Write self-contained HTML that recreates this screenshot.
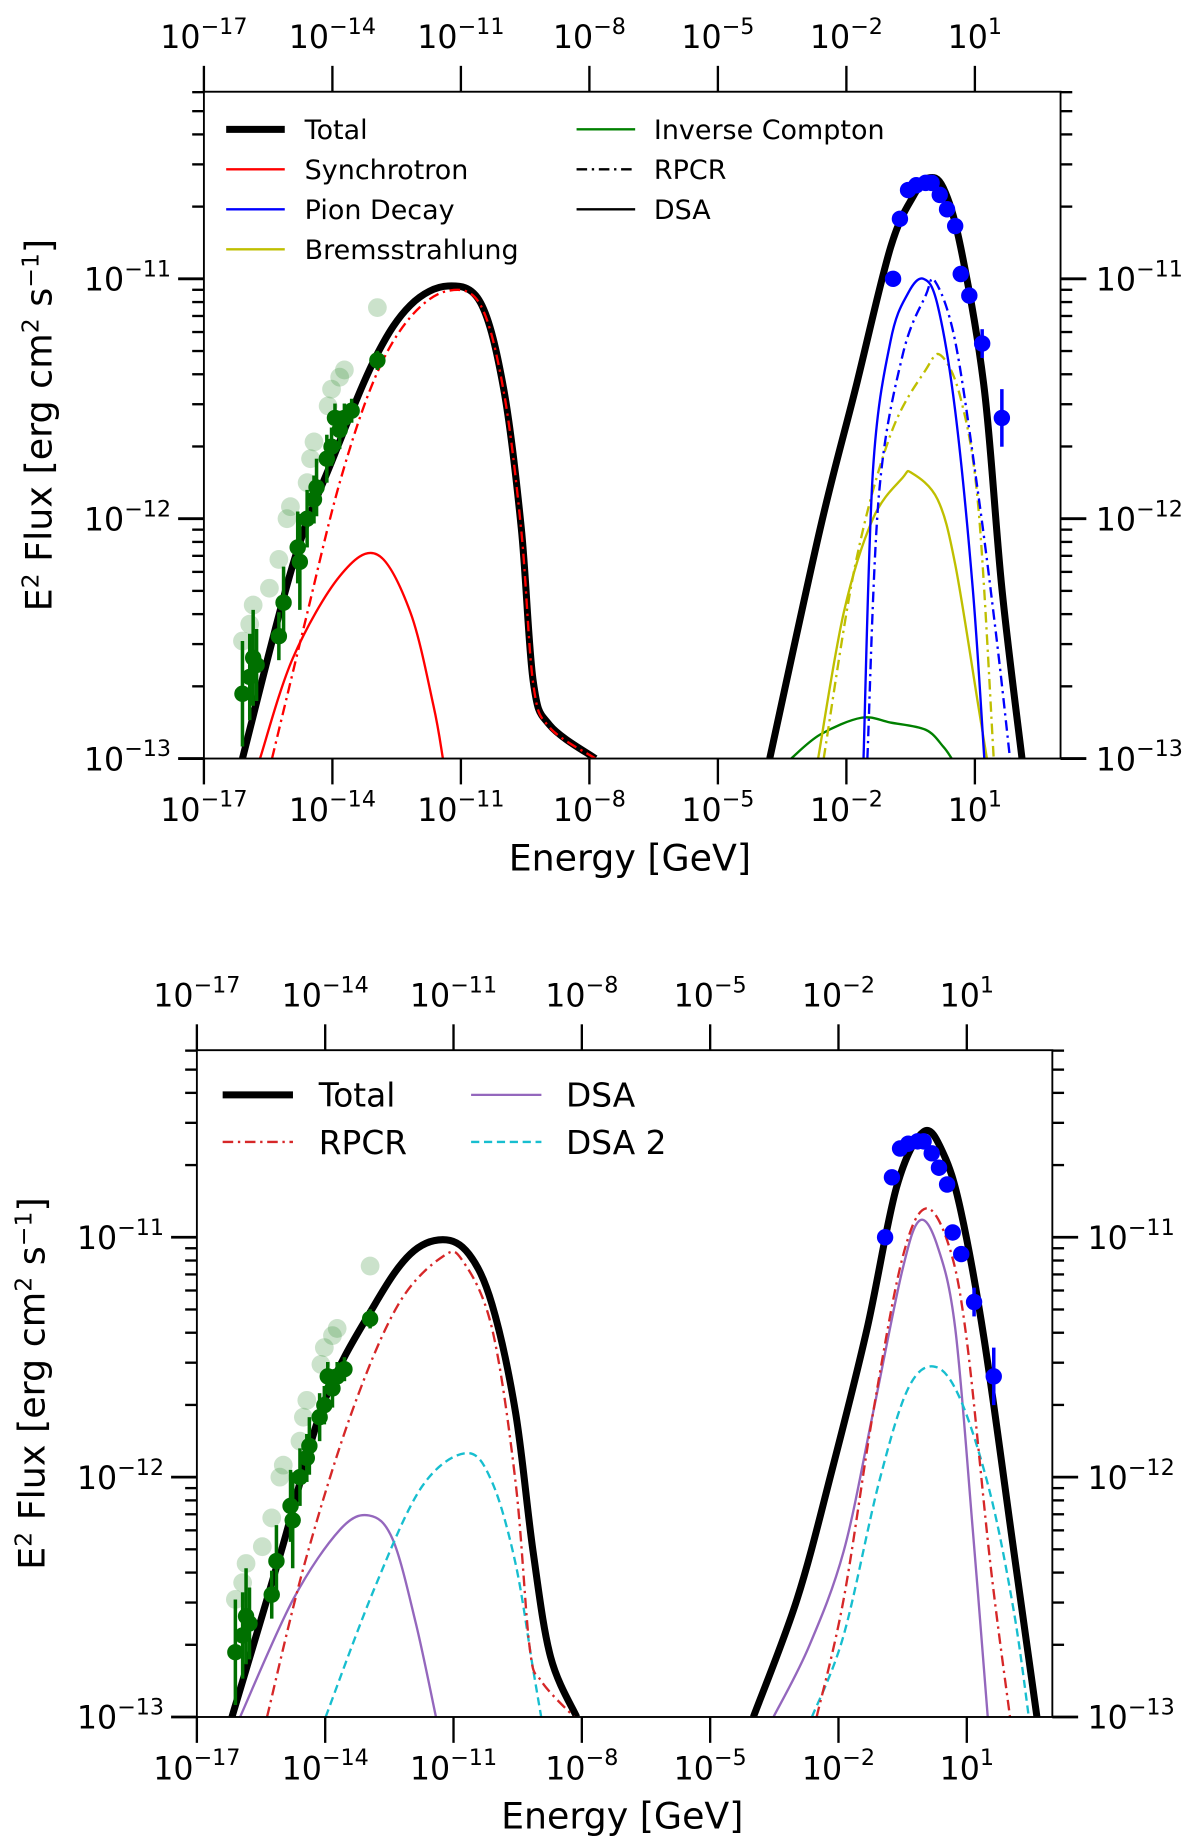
<!DOCTYPE html>
<html><head><meta charset="utf-8"><style>
html,body{margin:0;padding:0;background:#fff;}
svg{display:block;font-family:"DejaVu Sans","Liberation Sans",sans-serif;}
</style></head><body>
<svg id="fig" width="1200" height="1844" viewBox="0 0 1024 1568" preserveAspectRatio="none" xmlns="http://www.w3.org/2000/svg"></svg>
<script>
// ---------- DATA (log10 E [GeV], log10 E^2 Flux) ----------
const xTickExps = [-17,-14,-11,-8,-5,-2,1];
const yTickExps = [-13,-12,-11];
// observations
const radioE = [-16.10,-15.93,-15.85,-15.77,-15.25,-15.14,-14.81,-14.76,-14.59,-14.43,-14.37,-14.13,-14.02,-13.83,-13.94,-13.72,-13.55,-12.95];
const radioF = [-12.73,-12.66,-12.58,-12.61,-12.49,-12.35,-12.12,-12.18,-12.00,-11.92,-11.87,-11.75,-11.70,-11.63,-11.58,-11.58,-11.55,-11.34];
const radioErr = [0.22,0.18,0.2,0.15,0.1,0.15,0.15,0.2,0.12,0.1,0.12,0.1,0.08,0.08,0.06,0.06,0.05,0.04];
const radioFaintE = [-16.10,-15.93,-15.85,-15.47,-15.25,-15.06,-14.98,-14.59,-14.51,-14.43,-14.10,-14.02,-13.83,-13.72,-12.95];
const radioFaintF = [-12.51,-12.44,-12.36,-12.29,-12.17,-12.00,-11.95,-11.85,-11.75,-11.68,-11.53,-11.46,-11.41,-11.38,-11.12];
const gammaE = [-0.91,-0.75,-0.56,-0.37,-0.15,-0.01,0.18,0.35,0.54,0.67,0.87,1.17,1.63];
const gammaF = [-11.00,-10.75,-10.63,-10.61,-10.60,-10.60,-10.65,-10.71,-10.78,-10.98,-11.07,-11.27,-11.58];
const gammaErr = [0.01,0.01,0.01,0.01,0.01,0.01,0.01,0.01,0.01,0.02,0.03,0.06,0.12];

// top panel model curves
const tTotLoE = [-16.1,-14.92,-13.99,-13.0,-12.18,-11.3,-10.54,-10.0,-9.59,-9.31,-8.93,-7.86];
const tTotLoF = [-13,-12.19,-11.75,-11.33,-11.11,-11.03,-11.10,-11.46,-12.04,-12.68,-12.86,-13];
const tSynRE = [-15.41,-14.65,-13.83,-13.0,-12.18,-11.3,-10.54,-10.0,-9.59,-9.31,-8.93,-7.86];
const tSynRF = [-13,-12.44,-11.85,-11.41,-11.16,-11.05,-11.11,-11.47,-12.05,-12.69,-12.87,-13];
const tSynDE = [-15.69,-14.92,-13.83,-12.95,-12.18,-11.64,-11.42];
const tSynDF = [-13,-12.58,-12.24,-12.15,-12.39,-12.78,-13];
const tTotHiE = [-3.79,-2.61,-1.79,-0.97,-0.42,-0.09,0.26,0.67,1.22,1.63,2.10];
const tTotHiF = [-13,-12.04,-11.46,-10.87,-10.65,-10.58,-10.62,-10.87,-11.46,-12.29,-13];
const tPiDE = [-1.60,-1.38,-0.97,-0.56,-0.20,0.13,0.54,0.95,1.22];
const tPiDF = [-13,-11.8,-11.26,-11.06,-11.0,-11.11,-11.55,-12.29,-13];
const tPiRE = [-1.51,-1.24,-0.69,-0.15,0.07,0.54,1.08,1.50,1.82];
const tPiRF = [-13,-11.90,-11.32,-11.07,-11.01,-11.26,-11.90,-12.49,-13];
const tBrDE = [-2.66,-2.06,-1.38,-0.69,-0.47,0.13,0.54,1.08,1.28];
const tBrDF = [-13,-12.39,-12.0,-11.83,-11.81,-11.92,-12.19,-12.78,-13];
const tBrRE = [-2.53,-1.79,-0.97,-0.15,0.21,0.67,1.08,1.44];
const tBrRF = [-13,-12.19,-11.65,-11.38,-11.32,-11.50,-11.95,-13];
const tIcE = [-3.29,-2.61,-1.65,-0.97,-0.15,0.26,0.46];
const tIcF = [-13,-12.9,-12.83,-12.85,-12.88,-12.95,-13];

// bottom panel model curves
const bTotLoE = [-16.18,-15.03,-14.01,-12.84,-12.01,-11.25,-10.64,-10.10,-9.55,-9.14,-8.73,-8.12];
const bTotLoF = [-13,-12.31,-11.68,-11.28,-11.07,-11.01,-11.07,-11.28,-11.73,-12.31,-12.75,-13];
const bRpLoE = [-15.36,-14.48,-13.38,-12.29,-11.25,-10.78,-10.10,-9.55,-9.22,-8.95,-8.18];
const bRpLoF = [-13,-12.36,-11.73,-11.28,-11.08,-11.10,-11.38,-12.02,-12.71,-12.85,-13];
const bDsLoE = [-15.99,-14.75,-13.66,-12.97,-12.42,-11.88,-11.41];
const bDsLoF = [-13,-12.51,-12.22,-12.16,-12.26,-12.61,-13];
const bD2LoE = [-13.99,-12.84,-11.74,-10.70,-10.10,-9.55,-9.14,-8.95];
const bD2LoF = [-13,-12.46,-12.04,-11.90,-12.02,-12.36,-12.80,-13];
const bTotHiE = [-3.99,-2.97,-2.15,-1.33,-0.64,-0.01,0.45,0.86,1.41,2.10,2.64];
const bTotHiF = [-13,-12.51,-11.97,-11.38,-10.79,-10.56,-10.65,-10.89,-11.43,-12.31,-13];
const bDsHiE = [-3.52,-2.70,-1.88,-1.19,-0.51,-0.10,0.32,0.73,1.14,1.49];
const bDsHiF = [-13,-12.71,-12.31,-11.73,-11.14,-10.93,-11.04,-11.38,-12.22,-13];
const bRpHiE = [-2.51,-1.88,-1.19,-0.51,0.04,0.59,1.0,1.55,2.01];
const bRpHiF = [-13,-12.51,-11.73,-11.09,-10.88,-11.04,-11.43,-12.36,-13];
const bD2HiE = [-2.62,-1.88,-1.05,-0.37,0.26,0.86,1.55,2.10,2.45];
const bD2HiF = [-13,-12.66,-12.02,-11.63,-11.54,-11.68,-12.07,-12.56,-13];

// ---------- RENDERING ----------
const NS = "http://www.w3.org/2000/svg";
const svg = document.getElementById('fig');
function mk(tag, attrs, parent){ const e=document.createElementNS(NS,tag); for(const k in attrs) e.setAttribute(k,attrs[k]); (parent||svg).appendChild(e); return e; }

function makePanel(P){
  const g = mk('g',{});
  
  
  const xs = v => P.x0 + (v - P.xmin) * (P.x1 - P.x0) / (P.xmax - P.xmin);
  const ys = v => P.y1 - (v - P.ymin) * (P.y1 - P.y0) / (P.ymax - P.ymin);
  const clipId = P.name + '-clip';
  const defs = mk('defs',{},g);
  const cp = mk('clipPath',{id:clipId},defs);
  mk('rect',{x:P.x0,y:P.y0,width:P.x1-P.x0,height:P.y1-P.y0},cp);
  const plot = mk('g',{'clip-path':'url(#'+clipId+')'},g);
  
  

  function curve(E,F,stroke,width,dash,name){
    const pts = E.map((e,i)=>[xs(e),ys(F[i])]);
    let d = 'M'+pts[0][0].toFixed(2)+','+pts[0][1].toFixed(2);
    for(let i=0;i<pts.length-1;i++){
      const p0=pts[Math.max(0,i-1)],p1=pts[i],p2=pts[i+1],p3=pts[Math.min(pts.length-1,i+2)];
      const c1=[p1[0]+(p2[0]-p0[0])/6,p1[1]+(p2[1]-p0[1])/6];
      const c2=[p2[0]-(p3[0]-p1[0])/6,p2[1]-(p3[1]-p1[1])/6];
      d+=' C'+c1[0].toFixed(2)+','+c1[1].toFixed(2)+' '+c2[0].toFixed(2)+','+c2[1].toFixed(2)+' '+p2[0].toFixed(2)+','+p2[1].toFixed(2);
    }
    const p = mk('path',{d:d,fill:'none',stroke:stroke,'stroke-width':width,'stroke-linejoin':'round'},plot);
    if(dash) p.setAttribute('stroke-dasharray',dash);
    
    
  }
  function points(E,F,Err,color,r,opacity,name){
    E.forEach((e,i)=>{
      const cx=xs(e), cy=ys(F[i]);
      if(Err){
        const l = mk('line',{x1:cx,x2:cx,y1:ys(F[i]+Err[i]),y2:ys(F[i]-Err[i]),stroke:color,'stroke-width':3,opacity:opacity},plot);
        
        
      }
      const c = mk('circle',{cx:cx,cy:cy,r:r,fill:color,opacity:opacity},plot);
      
      
    });
  }
  P.draw(curve, points);

  const fr = mk('rect',{x:P.x0,y:P.y0,width:P.x1-P.x0,height:P.y1-P.y0,fill:'none',stroke:'#000','stroke-width':1.6},g);
  
  

  xTickExps.forEach(ex=>{
    const x = xs(ex);
    mk('line',{x1:x,x2:x,y1:P.y1,y2:P.y1+22,stroke:'#000','stroke-width':2},g);
    mk('line',{x1:x,x2:x,y1:P.y0,y2:P.y0-22,stroke:'#000','stroke-width':2},g);
    [[P.y1+53,'x-tick-label'],[P.y0-37,'top-x-tick-label']].forEach(([ty,nm])=>{
      const t = mk('text',{x:x,y:ty,'font-size':27,'text-anchor':'middle',fill:'#000'},g);
      
      
      t.innerHTML = '10<tspan dy="-12" font-size="19">'+(ex<0?'\u2212'+(-ex):ex)+'</tspan>';
    });
  });
  for(let dec=Math.floor(P.ymin); dec<=Math.ceil(P.ymax); dec++){
    for(let m=1;m<=9;m++){
      const v = dec + Math.log10(m);
      if(v < P.ymin-1e-6 || v > P.ymax+1e-6) continue;
      const y = ys(v), L = m===1?22:10, w = m===1?2.4:2;
      mk('line',{x1:P.x0,x2:P.x0-L,y1:y,y2:y,stroke:'#000','stroke-width':w},g);
      mk('line',{x1:P.x1,x2:P.x1+L,y1:y,y2:y,stroke:'#000','stroke-width':w},g);
    }
  }
  yTickExps.forEach(ex=>{
    const y = ys(ex);
    const t1 = mk('text',{x:P.x0-28,y:y+10,'font-size':27,'text-anchor':'end',fill:'#000'},g);
    
    
    t1.innerHTML = '10<tspan dy="-12" font-size="19">\u2212'+(-ex)+'</tspan>';
    const t2 = mk('text',{x:P.x1+30,y:y+10,'font-size':27,'text-anchor':'start',fill:'#000'},g);
    
    
    t2.innerHTML = '10<tspan dy="-12" font-size="19">\u2212'+(-ex)+'</tspan>';
  });
  const xt = mk('text',{x:(P.x0+P.x1)/2-2,y:P.y1+95,'font-size':31,'text-anchor':'middle',fill:'#000'},g);
  
  
  xt.textContent = 'Energy [GeV]';
  const cy = (P.y0+P.y1)/2;
  const yt = mk('text',{x:0,y:0,'font-size':31,'text-anchor':'middle',fill:'#000',transform:'translate('+(P.x0-130)+','+cy+') rotate(-90)'},g);
  
  
  yt.innerHTML = 'E<tspan dy="-11" font-size="20">2</tspan><tspan dy="11"> Flux [erg cm</tspan><tspan dy="-11" font-size="20">2</tspan><tspan dy="11"> s</tspan><tspan dy="-11" font-size="20">\u22121</tspan><tspan dy="11">]</tspan>';

  P.legend.forEach(it=>{
    const l = mk('line',{x1:it.lx,x2:it.lx+it.lw,y1:it.y,y2:it.y,stroke:it.c,'stroke-width':it.w},g);
    if(it.dash) l.setAttribute('stroke-dasharray',it.dash);
    
    
    const t = mk('text',{x:it.tx,y:it.y+it.fs*0.36,'font-size':it.fs,fill:'#000'},g);
    
    
    t.textContent = it.label;
  });
}

const DD = '9,4,2,4';
makePanel({name:'top-panel',x0:174,x1:905,y0:78,y1:645,xmin:-17,xmax:3,ymin:-13,ymax:-10.22,
  draw:(curve,points)=>{
    points(radioFaintE,radioFaintF,null,'#2e8b2e',8,0.25,'radio-point-faint');
    curve(tTotLoE,tTotLoF,'#000',6,null,'total-curve-low');
    curve(tSynRE,tSynRF,'#ff0000',2,DD,'synchrotron-rpcr-curve');
    curve(tSynDE,tSynDF,'#ff0000',2,null,'synchrotron-dsa-curve');
    curve(tTotHiE,tTotHiF,'#000',6,null,'total-curve-high');
    curve(tIcE,tIcF,'#008000',2,null,'inverse-compton-curve');
    curve(tBrDE,tBrDF,'#bfbf00',2,null,'bremsstrahlung-dsa-curve');
    curve(tBrRE,tBrRF,'#bfbf00',2,DD,'bremsstrahlung-rpcr-curve');
    curve(tPiDE,tPiDF,'#0000ff',2,null,'pion-dsa-curve');
    curve(tPiRE,tPiRF,'#0000ff',2,DD,'pion-rpcr-curve');
    points(radioE,radioF,radioErr,'#007000',7,1,'radio-point');
    points(gammaE,gammaF,gammaErr,'#0000ff',7,1,'gamma-point');
  },
  legend:[
    {key:'total',label:'Total',c:'#000',w:6,lx:193,lw:50,tx:260,y:110,fs:23},
    {key:'synchrotron',label:'Synchrotron',c:'#ff0000',w:2,lx:193,lw:50,tx:260,y:144,fs:23},
    {key:'pion-decay',label:'Pion Decay',c:'#0000ff',w:2,lx:193,lw:50,tx:260,y:178,fs:23},
    {key:'bremsstrahlung',label:'Bremsstrahlung',c:'#bfbf00',w:2,lx:193,lw:50,tx:260,y:212,fs:23},
    {key:'inverse-compton',label:'Inverse Compton',c:'#008000',w:2,lx:492,lw:50,tx:558,y:110,fs:23},
    {key:'rpcr',label:'RPCR',c:'#000',w:2,dash:DD,lx:492,lw:50,tx:558,y:144,fs:23},
    {key:'dsa',label:'DSA',c:'#000',w:2,lx:492,lw:50,tx:558,y:178,fs:23}
  ]});

makePanel({name:'bottom-panel',x0:168,x1:898,y0:893,y1:1460,xmin:-17,xmax:3,ymin:-13,ymax:-10.22,
  draw:(curve,points)=>{
    points(radioFaintE,radioFaintF,null,'#2e8b2e',8,0.25,'radio-point-faint');
    curve(bTotLoE,bTotLoF,'#000',6,null,'total-curve-low');
    curve(bTotHiE,bTotHiF,'#000',6,null,'total-curve-high');
    curve(bDsLoE,bDsLoF,'#9467bd',2,null,'dsa-curve-low');
    curve(bDsHiE,bDsHiF,'#9467bd',2,null,'dsa-curve-high');
    curve(bD2LoE,bD2LoF,'#17becf',2,'7,4','dsa2-curve-low');
    curve(bD2HiE,bD2HiF,'#17becf',2,'7,4','dsa2-curve-high');
    curve(bRpLoE,bRpLoF,'#d62728',2,DD,'rpcr-curve-low');
    curve(bRpHiE,bRpHiF,'#d62728',2,DD,'rpcr-curve-high');
    points(radioE,radioF,radioErr,'#007000',7,1,'radio-point');
    points(gammaE,gammaF,gammaErr,'#0000ff',7,1,'gamma-point');
  },
  legend:[
    {key:'total',label:'Total',c:'#000',w:6,lx:190,lw:60,tx:272,y:931,fs:28},
    {key:'rpcr',label:'RPCR',c:'#d62728',w:2,dash:DD,lx:190,lw:60,tx:272,y:971,fs:28},
    {key:'dsa',label:'DSA',c:'#9467bd',w:2,lx:402,lw:60,tx:483,y:931,fs:28},
    {key:'dsa2',label:'DSA 2',c:'#17becf',w:2,dash:'7,4',lx:402,lw:60,tx:483,y:971,fs:28}
  ]});
</script>
</body></html>
